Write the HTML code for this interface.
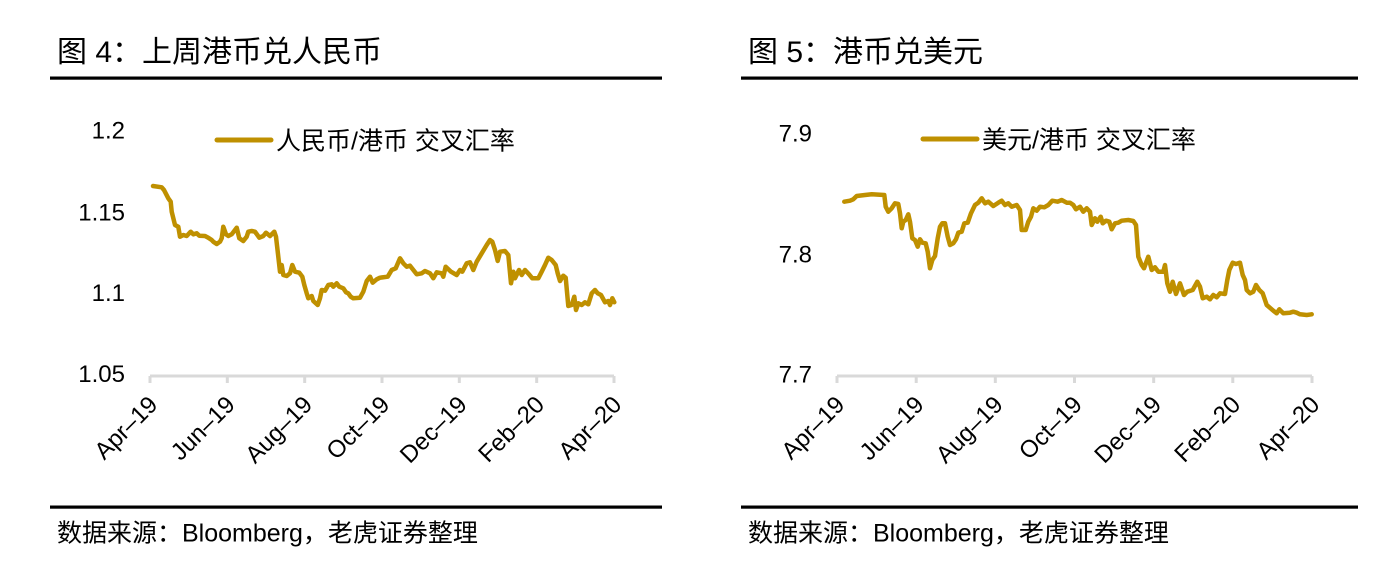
<!DOCTYPE html>
<html>
<head>
<meta charset="utf-8">
<style>
  html, body { margin: 0; padding: 0; background: #ffffff; }
  body { width: 1385px; height: 567px; overflow: hidden; }
  svg { display: block; }
  text { font-family: "Liberation Sans", "Noto Sans CJK SC", sans-serif; fill: #000; }
</style>
</head>
<body>
<svg width="1385" height="567" viewBox="0 0 1385 567" xmlns="http://www.w3.org/2000/svg">
  <rect x="0" y="0" width="1385" height="567" fill="#ffffff"/>

  <!-- ============ LEFT PANEL ============ -->
  <text x="57" y="62" font-size="30">图 4：上周港币兑人民币</text>
  <rect x="50" y="76.5" width="612" height="3.2" fill="#000"/>

  <g font-size="24" text-anchor="end">
    <text x="125" y="138.6">1.2</text>
    <text x="125" y="220.3">1.15</text>
    <text x="125" y="300.9">1.1</text>
    <text x="125" y="382.1">1.05</text>
  </g>

  <line x1="217" y1="140" x2="271" y2="140" stroke="#BF9000" stroke-width="5" stroke-linecap="round"/>
  <text x="276" y="149.5" font-size="25">人民币/港币 交叉汇率</text>

  <g stroke="#d9d9d9" stroke-width="3" fill="none">
    <line x1="150" y1="376" x2="614" y2="376"/>
    <line x1="150" y1="376" x2="150" y2="383"/>
    <line x1="227.3" y1="376" x2="227.3" y2="383"/>
    <line x1="304.7" y1="376" x2="304.7" y2="383"/>
    <line x1="382" y1="376" x2="382" y2="383"/>
    <line x1="459.3" y1="376" x2="459.3" y2="383"/>
    <line x1="536.7" y1="376" x2="536.7" y2="383"/>
    <line x1="614" y1="376" x2="614" y2="383"/>
  </g>
  <g font-size="24" text-anchor="end">
    <text transform="translate(159,406) rotate(-45)">Apr–19</text>
    <text transform="translate(236.3,406) rotate(-45)">Jun–19</text>
    <text transform="translate(313.7,406) rotate(-45)">Aug–19</text>
    <text transform="translate(391,406) rotate(-45)">Oct–19</text>
    <text transform="translate(468.3,406) rotate(-45)">Dec–19</text>
    <text transform="translate(545.7,406) rotate(-45)">Feb–20</text>
    <text transform="translate(623,406) rotate(-45)">Apr–20</text>
  </g>

  <polyline fill="none" stroke="#BF9000" stroke-width="4.5" stroke-linejoin="round" stroke-linecap="round"
    points="153,186 161.7,187.3 164,190 168.3,198.3 170.7,201.7 171.7,211.7 175,225 178.3,226.7 180,236.7 183.3,235 186.7,236 190.7,231.7 193.3,234.3 196.7,233.3 199.3,235.7 205,236 208.3,237.7 211.7,240 213.3,241.7 216.7,244 220,241.7 221.7,238.3 223.3,226.7 226,234.3 228.3,236 231.7,234.3 236.7,227.7 239.3,238.3 243.3,241 246.7,236.7 248.3,231.7 251.7,231 255,231.7 259.3,237.7 263.3,236 266,232.7 270,236 274.3,231.7 276,236.7 278.3,256.7 280,271.7 281.7,265 283.3,275 286.7,276 290,273.3 292.3,265 295,271.7 299.3,272.7 302.3,276.7 304.3,285 306.7,293.3 308.3,298.3 311.7,296 313.3,301 317.7,305 320,298.3 321.7,290 325,290.7 328.3,285 331.7,284.3 333.3,286.7 336.7,283.3 339.3,286.7 343.3,288.3 346,292.3 348.3,293.3 350.7,296.7 353.3,298.3 360,297.7 363.3,291.7 366.7,281 370,276.7 372.7,282.7 376.7,279.3 380,277.7 387.7,276.7 391.7,270 395.7,268.3 400,258.3 403.3,263.3 406.7,266.7 410,265.7 416.7,274.3 421.7,273.3 425,271 430,273.3 433.3,278.3 436.7,272.3 441.7,273.3 443.3,276.7 445.7,266.7 451,271.7 456.7,275 460,270 462.3,271.7 466.7,263.3 470,262.3 473.3,270 476.7,261.7 481.7,253.3 486.7,245 490,240 492.3,241.7 495,250 497.7,261 500,251.7 505,251 508.3,255 511,283.3 513.3,271.7 515,278.3 519,270 521.7,275 525,270 529,274.3 532.3,278.3 538.3,278.3 541.7,271.7 545,265 548.3,257.7 551.7,260 555.7,265 557.7,273.3 560,281 563.3,275.7 565.7,277.7 568.3,306 571.7,305 574.3,296.7 576,310 578.3,303.3 581.7,305 585,302.3 588.3,304.3 591.7,293.3 595,290 597.7,293.3 601,295 605,302.3 608.3,301 610,305 612.3,298.3 614.3,302.3"/>

  <rect x="50" y="505.5" width="612" height="3.2" fill="#000"/>
  <text x="57" y="541.5" font-size="25">数据来源：Bloomberg，老虎证券整理</text>

  <!-- ============ RIGHT PANEL ============ -->
  <text x="748" y="62" font-size="30">图 5：港币兑美元</text>
  <rect x="741" y="76.5" width="617" height="3.2" fill="#000"/>

  <g font-size="24" text-anchor="end">
    <text x="812" y="141.6">7.9</text>
    <text x="812" y="262.6">7.8</text>
    <text x="812" y="382.6">7.7</text>
  </g>

  <line x1="923" y1="139" x2="977" y2="139" stroke="#BF9000" stroke-width="5" stroke-linecap="round"/>
  <text x="982" y="148.5" font-size="25">美元/港币 交叉汇率</text>

  <g stroke="#d9d9d9" stroke-width="3" fill="none">
    <line x1="837" y1="376" x2="1312" y2="376"/>
    <line x1="837" y1="376" x2="837" y2="383"/>
    <line x1="916.2" y1="376" x2="916.2" y2="383"/>
    <line x1="995.3" y1="376" x2="995.3" y2="383"/>
    <line x1="1074.5" y1="376" x2="1074.5" y2="383"/>
    <line x1="1153.7" y1="376" x2="1153.7" y2="383"/>
    <line x1="1232.8" y1="376" x2="1232.8" y2="383"/>
    <line x1="1312" y1="376" x2="1312" y2="383"/>
  </g>
  <g font-size="24" text-anchor="end">
    <text transform="translate(846,406) rotate(-45)">Apr–19</text>
    <text transform="translate(925.2,406) rotate(-45)">Jun–19</text>
    <text transform="translate(1004.3,406) rotate(-45)">Aug–19</text>
    <text transform="translate(1083.5,406) rotate(-45)">Oct–19</text>
    <text transform="translate(1162.7,406) rotate(-45)">Dec–19</text>
    <text transform="translate(1241.8,406) rotate(-45)">Feb–20</text>
    <text transform="translate(1321,406) rotate(-45)">Apr–20</text>
  </g>

  <polyline fill="none" stroke="#BF9000" stroke-width="4.5" stroke-linejoin="round" stroke-linecap="round"
    points="844.3,201.7 850,200.7 853.3,199.3 856.7,196 865,195 871.7,194.3 884.3,195 885.7,206.7 888.3,211.7 891.7,208.3 895,203.3 898.3,204 900,213.3 901.7,228.3 903.3,221.7 905.7,220 908.3,214.3 910,221.7 912.3,238.3 915,240 917.7,246.7 920,239.3 922.3,242.7 925.7,243.3 927.7,251.7 930,268.3 932.3,260 935,256 937.7,238.3 940,226.7 942.3,223.3 945,223.3 947.7,236.7 950,245 953.3,243.3 956,239.3 958.3,232.7 961.7,231.7 964.3,223.3 967.7,222.7 971,213.3 975,205 978.3,202.7 981.7,198.3 985,203.3 988.3,201.7 993.3,206 998.3,202.7 1001.7,200.7 1005,205 1008.3,203.3 1011.7,206.7 1016.7,205 1020,210 1021.7,230 1025.7,230 1028.3,221.7 1031,216.7 1033.3,208.3 1036.7,210.7 1040,206.7 1044.3,207.3 1048.3,205 1052.3,200.7 1057.7,201.7 1061.7,200 1066.7,202.7 1070,202.7 1073.3,205 1076,209.3 1080,206.7 1083.3,211.7 1086.7,208.3 1090,211.7 1091.7,225 1095,218.3 1097.3,221.7 1100.7,216.7 1102.7,223.3 1106,220.7 1109.3,221.7 1111.7,229.3 1115,223.3 1118.3,222.7 1121.7,220.7 1128.3,220 1133.3,221 1136,225 1138.3,256.7 1141.7,265 1144,268.3 1148.3,256.7 1151.7,270 1155,267.3 1158.3,271.7 1163.3,271.7 1165,265 1167.3,283.3 1170,291.7 1172.7,281.7 1176,294 1180,283.3 1184,295 1187.3,291.7 1192.7,290 1197.3,281.7 1200,286.7 1202.7,298.3 1206.7,296.7 1210,299.3 1213.3,295 1216.7,297.3 1220,293.3 1225,294 1227.3,280 1229.3,270 1232.7,262.7 1236,264 1240,262.7 1242.7,275 1245,280 1246.7,290 1250,293.3 1253.3,291.7 1256,285 1259.3,290 1262.7,293.3 1266.7,305 1273.3,310.7 1276.7,313.3 1279.3,309.3 1283.3,313.3 1290,312.7 1293.3,311.7 1296.7,312.7 1300,314.3 1306.7,315 1311.7,314.3"/>

  <rect x="741" y="505.5" width="617" height="3.2" fill="#000"/>
  <text x="748" y="541.5" font-size="25">数据来源：Bloomberg，老虎证券整理</text>
</svg>
</body>
</html>
